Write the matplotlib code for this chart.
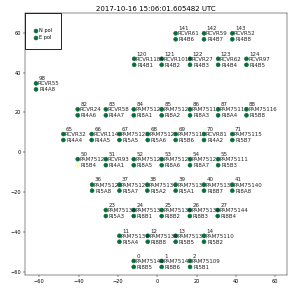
import numpy as np
import matplotlib.pyplot as plt

# antenna numbers, positions (N pol dot) and names
ants = [141, 142, 143,
        120, 121, 122, 123, 124,
        98,
        82, 83, 84, 85, 86, 87, 88,
        65, 66, 67, 68, 69, 70, 71,
        50, 51, 52, 53, 54, 55,
        36, 37, 38, 39, 40, 41,
        23, 24, 25, 26, 27,
        11, 12, 13, 14,
        0, 1, 2]
ant_x = [9.3, 23.7, 38.1,
         -11.8, 2.2, 16.6, 30.9, 45.3,
         -61.7,
         -40.5, -26.2, -12.0, 2.2, 16.6, 30.9, 45.3,
         -47.8, -33.4, -19.3, -4.9, 9.3, 23.7, 38.1,
         -40.5, -26.2, -12.0, 2.2, 16.6, 30.9,
         -33.2, -19.3, -5.1, 9.3, 23.7, 38.1,
         -26.2, -12.0, 2.2, 16.5, 30.7,
         -19.3, -4.9, 9.3, 23.7,
         -12.0, 2.2, 16.6]
ant_y = [59.7] * 3 + [46.9] * 5 + [34.6] + [21.6] * 7 + [9.2] * 7 + \
        [-3.4] * 6 + [-16.2] * 6 + [-28.9] * 5 + [-41.8] * 4 + [-54.4] * 3
rcvr = ['RCVR61', 'RCVR59', 'RCVR52',
        'RCVR118', 'RCVR101', 'RCVR27', 'RCVR62', 'RCVR97',
        'RCVR55',
        'RCVR24', 'RCVR58', 'PAM75123', 'PAM75120', 'PAM75117', 'PAM75119', 'PAM75116',
        'RCVR32', 'RCVR114', 'PAM75122', 'PAM75126', 'PAM75118', 'RCVR81', 'PAM75115',
        'PAM75124', 'RCVR93', 'PAM75125', 'PAM75127', 'PAM75121', 'PAM75111',
        'PAM75128', 'PAM75129', 'PAM75130', 'PAM75131', 'PAM75132', 'PAM75140',
        'PAM75133', 'PAM75134', 'PAM75135', 'PAM75136', 'PAM75144',
        'PAM75137', 'PAM75138', 'PAM75139', 'PAM75110',
        'PAM75141', 'PAM75142', 'PAM75109']
stn = ['RI4B6', 'RI4B7', 'RI4B8',
       'RI4B1', 'RI4B2', 'RI4B3', 'RI4B4', 'RI4B5',
       'RI4A8',
       'RI4A6', 'RI4A7', 'RI8A1', 'RI8A2', 'RI8A3', 'RI8A4', 'RI5B8',
       'RI4A4', 'RI4A5', 'RI5A5', 'RI5A6', 'RI5B6', 'RI4A2', 'RI5B7',
       'RI5B4', 'RI4A1', 'RI8A5', 'RI8A6', 'RI8A7', 'RI5B3',
       'RI5A8', 'RI5A7', 'RI5A2', 'RI5A1', 'RI8B7', 'RI8A8',
       'RI5A3', 'RI8B1', 'RI8B2', 'RI8B3', 'RI8B4',
       'RI5A4', 'RI8B8', 'RI5B5', 'RI5B2',
       'RI8B5', 'RI8B6', 'RI5B1']
# colour values (YlGn), guessed from the dot shades
n_val = [0.85, 0.85, 0.85,
         0.85, 0.95, 0.95, 0.85, 0.85,
         0.85,
         0.85, 0.85, 0.85, 0.85, 0.85, 0.85, 0.85,
         0.85, 0.85, 0.85, 0.85, 0.85, 0.85, 0.85,
         0.85, 0.85, 0.85, 0.85, 0.85, 0.85,
         0.85, 0.85, 0.85, 0.85, 0.85, 0.85,
         0.85, 0.95, 0.85, 0.95, 0.95,
         0.85, 0.95, 0.95, 0.85,
         0.85, 0.95, 0.85]
e_val = [0.85] * 23 + [0.12] + [0.85] * 23

cmap = plt.get_cmap('YlGn')
n_col = [cmap(v) for v in n_val]
e_col = [cmap(v) for v in e_val]
ant_x = np.array(ant_x)
ant_y = np.array(ant_y)
dy = 3.0  # E pol dot sits below the N pol dot

fig = plt.figure(figsize=(7.4, 7.375), dpi=40)
ax = fig.add_axes([0.0845, 0.0668, 0.885, 0.888])

ax.scatter(ant_x, ant_y, c=n_col, s=50, zorder=4, label='N pol')
ax.scatter(ant_x, ant_y - dy, c=e_col, s=50, zorder=4, label='E pol')

for a, x, y, r, s in zip(ants, ant_x, ant_y, rcvr, stn):
    ax.text(x + 1.3, y + 2.4, str(a), fontsize=10, va='center', ha='left', color='#222222')
    ax.text(x + 0.8, y - 0.3, r, fontsize=10, va='center', ha='left', color='#222222')
    ax.text(x + 1.6, y - dy - 0.3, s, fontsize=10, va='center', ha='left', color='#222222')

ax.set_xlim(-67.3, 65.9)
ax.set_ylim(-61.6, 69.7)
ax.set_xticks([-60, -40, -20, 0, 20, 40, 60])
ax.set_yticks([-60, -40, -20, 0, 20, 40, 60])
ax.tick_params(labelsize=9)
ax.set_title('2017-10-16 15:06:01.605482 UTC', fontsize=12.5, pad=4)

leg = ax.legend(loc='upper left', borderaxespad=0, fontsize=9, borderpad=1.8,
                handlelength=0.8, handletextpad=0.1, labelspacing=0.4,
                title=' ', title_fontsize=6,
                fancybox=False, framealpha=1, edgecolor='black')
leg.get_frame().set_linewidth(1.5)

plt.savefig('out.png', dpi=40)
